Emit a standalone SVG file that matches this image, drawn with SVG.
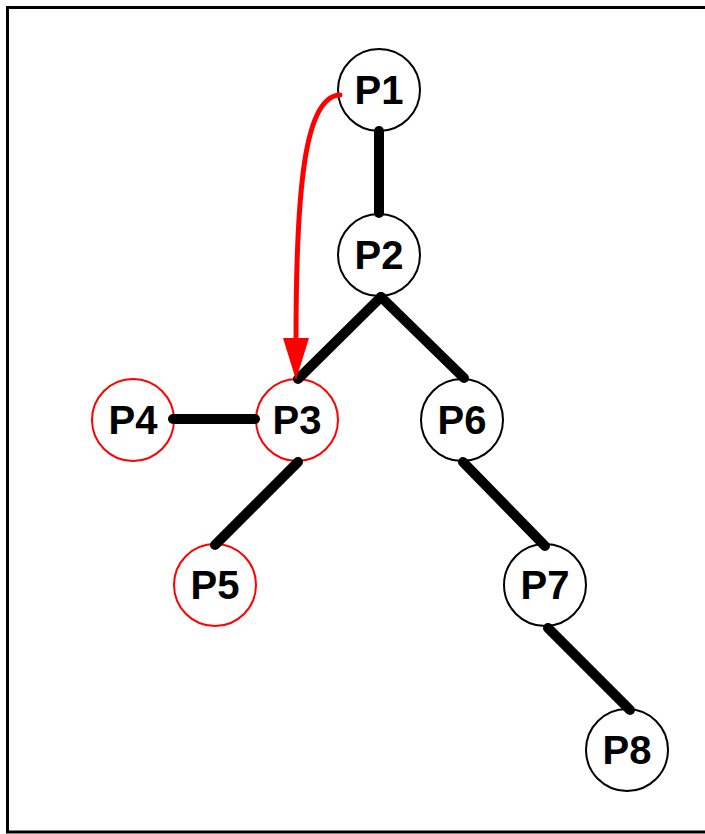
<svg xmlns="http://www.w3.org/2000/svg" width="705" height="834" viewBox="0 0 705 834">
<defs>
<style>
.n{fill:#fff;stroke-width:2}
.b{stroke:#000}
.r{stroke:#f00}
.t{font-family:"Liberation Sans",Arial,sans-serif;font-weight:bold;font-size:40px;text-anchor:middle;fill:#000}
.e{stroke:#000;stroke-width:10;stroke-linecap:round;fill:none}
</style>
</defs>
<rect x="0" y="0" width="705" height="834" fill="#fff"/>
<rect x="7.5" y="7.5" width="710" height="824.5" fill="none" stroke="#000" stroke-width="3"/>
<g id="nodes-bg">
<g id="P1"><circle class="n b" cx="379" cy="90" r="41"/><text class="t" x="379" y="104">P1</text></g>
<g id="P2"><circle class="n b" cx="379" cy="255" r="41"/><text class="t" x="379" y="269">P2</text></g>
<g id="P3"><circle class="n r" cx="297" cy="420" r="41"/><text class="t" x="297" y="434">P3</text></g>
<g id="P4"><circle class="n r" cx="133" cy="420" r="41"/><text class="t" x="133" y="434">P4</text></g>
<g id="P5"><circle class="n r" cx="215" cy="585" r="41"/><text class="t" x="215" y="599">P5</text></g>
<g id="P6"><circle class="n b" cx="462" cy="420" r="41"/><text class="t" x="462" y="434">P6</text></g>
<g id="P7"><circle class="n b" cx="545" cy="585" r="41"/><text class="t" x="545" y="599">P7</text></g>
<g id="P8"><circle class="n b" cx="627" cy="750" r="41"/><text class="t" x="627" y="764">P8</text></g>
</g>
<g id="connectors">
<line class="e" x1="379" y1="131" x2="379" y2="213"/>
<line class="e" x1="381" y1="297" x2="298" y2="379"/>
<line class="e" x1="381" y1="297" x2="464" y2="378"/>
<line class="e" x1="173" y1="419" x2="255" y2="419"/>
<line class="e" x1="298" y1="462" x2="215" y2="545"/>
<line class="e" x1="463" y1="462" x2="545" y2="546"/>
<line class="e" x1="548" y1="628" x2="630" y2="710"/>
<path d="M340,95 C306,96 296,180 296,340" fill="none" stroke="#f00" stroke-width="5" stroke-linecap="round"/>
<path d="M283,338 L309,338 L296,380 Z" fill="#f00"/>
</g>
</svg>
